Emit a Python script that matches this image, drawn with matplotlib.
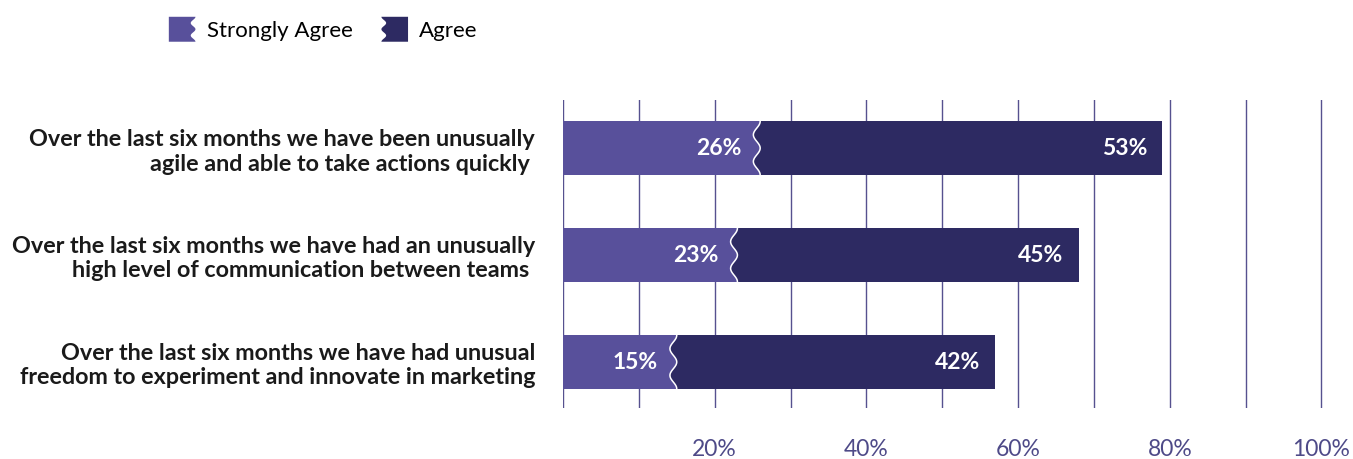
import matplotlib.pyplot as plt
import numpy as np
from matplotlib.legend_handler import HandlerBase
from matplotlib.patches import Polygon

# data
statements = [
    "Over the last six months we have been unusually\nagile and able to take actions quickly ",
    "Over the last six months we have had an unusually\nhigh level of communication between teams ",
    "Over the last six months we have had unusual\nfreedom to experiment and innovate in marketing",
]
strongly_agree = [26, 23, 15]
agree = [53, 45, 42]
series_names = ["Strongly Agree", "Agree"]
tick_values = [20, 40, 60, 80, 100]

light_col = "#58509b"
dark_col = "#2d2a62"
grid_col = "#56518f"
font = ["Lato", "DejaVu Sans"]
plt.rcParams["font.family"] = font


class WavyHandler(HandlerBase):
    # legend patch with a wavy edge (right side or left side)
    def __init__(self, side):
        super().__init__()
        self.side = side

    def create_artists(self, legend, orig_handle, xdescent, ydescent,
                       width, height, fontsize, trans):
        t = np.linspace(0, 1, 30)
        bump = 0.18 * width * (0.5 - 0.5 * np.cos(2 * np.pi * 2 * t))
        ys = -ydescent + height * (1 - t)
        if self.side == "right":
            pts = [(-xdescent, -ydescent + height)]
            pts += list(zip(-xdescent + width - bump, ys))
            pts += [(-xdescent, -ydescent)]
        else:
            pts = [(-xdescent + width, -ydescent + height)]
            pts += list(zip(-xdescent + bump, ys))
            pts += [(-xdescent + width, -ydescent)]
        p = Polygon(pts, closed=True, facecolor=orig_handle.get_facecolor(),
                    edgecolor="none", transform=trans)
        return [p]


fig = plt.figure(figsize=(13.53, 4.59), dpi=100)
ax = fig.add_axes([0.4161, 0.1111, 0.5617, 0.671])

y = np.arange(len(statements))
h = 0.5
b1 = ax.barh(y, strongly_agree, height=h, color=light_col, zorder=2)
b2 = ax.barh(y, agree, left=strongly_agree, height=h, color=dark_col, zorder=2)

# wavy white separator between the two segments
t = np.linspace(0, 1, 60)
for yi, s in zip(y, strongly_agree):
    yy = yi - h / 2 + h * t
    xx = s - 0.9 * (0.5 - 0.5 * np.cos(2 * np.pi * 2 * t))
    ax.fill_betweenx(yy, xx, s, color=dark_col, lw=0, zorder=3)
    ax.plot(xx, yy, color="white", lw=1.1, zorder=4)

# value labels
for yi, s, a in zip(y, strongly_agree, agree):
    ax.text(s - 2.5, yi, f"{s}%", color="white", fontsize=16.5, fontweight="bold",
            ha="right", va="center", zorder=5)
    ax.text(s + a - 2, yi, f"{a}%", color="white", fontsize=16.5, fontweight="bold",
            ha="right", va="center", zorder=5)

ax.set_xlim(0, 100.2)
ax.set_ylim(2.43, -0.45)
ax.set_xticks(np.arange(0, 101, 10), minor=True)
ax.set_xticks(tick_values)
ax.set_xticklabels([f"{v}%" for v in tick_values], fontsize=16.5,
                   color="#4e4a88", fontweight="normal")
ax.grid(axis="x", which="both", color=grid_col, lw=1.0, zorder=0)
ax.tick_params(axis="x", which="both", length=0, pad=22)
ax.set_yticks(y)
ax.set_yticklabels(statements, fontsize=16.8, fontweight="bold",
                   color="#1a1a1a", linespacing=1.2)
ax.tick_params(axis="y", length=0, pad=20)
for sp in ax.spines.values():
    sp.set_visible(False)

fig.legend([b1.patches[0], b2.patches[0]], series_names, loc="upper left",
           bbox_to_anchor=(0.11, 1.007), ncol=2, frameon=False, fontsize=16,
           handler_map={b1.patches[0]: WavyHandler("right"),
                        b2.patches[0]: WavyHandler("left")},
           handlelength=1.2, handleheight=1.35, handletextpad=0.5,
           columnspacing=1.3)

fig.savefig("out.png", dpi=100)
